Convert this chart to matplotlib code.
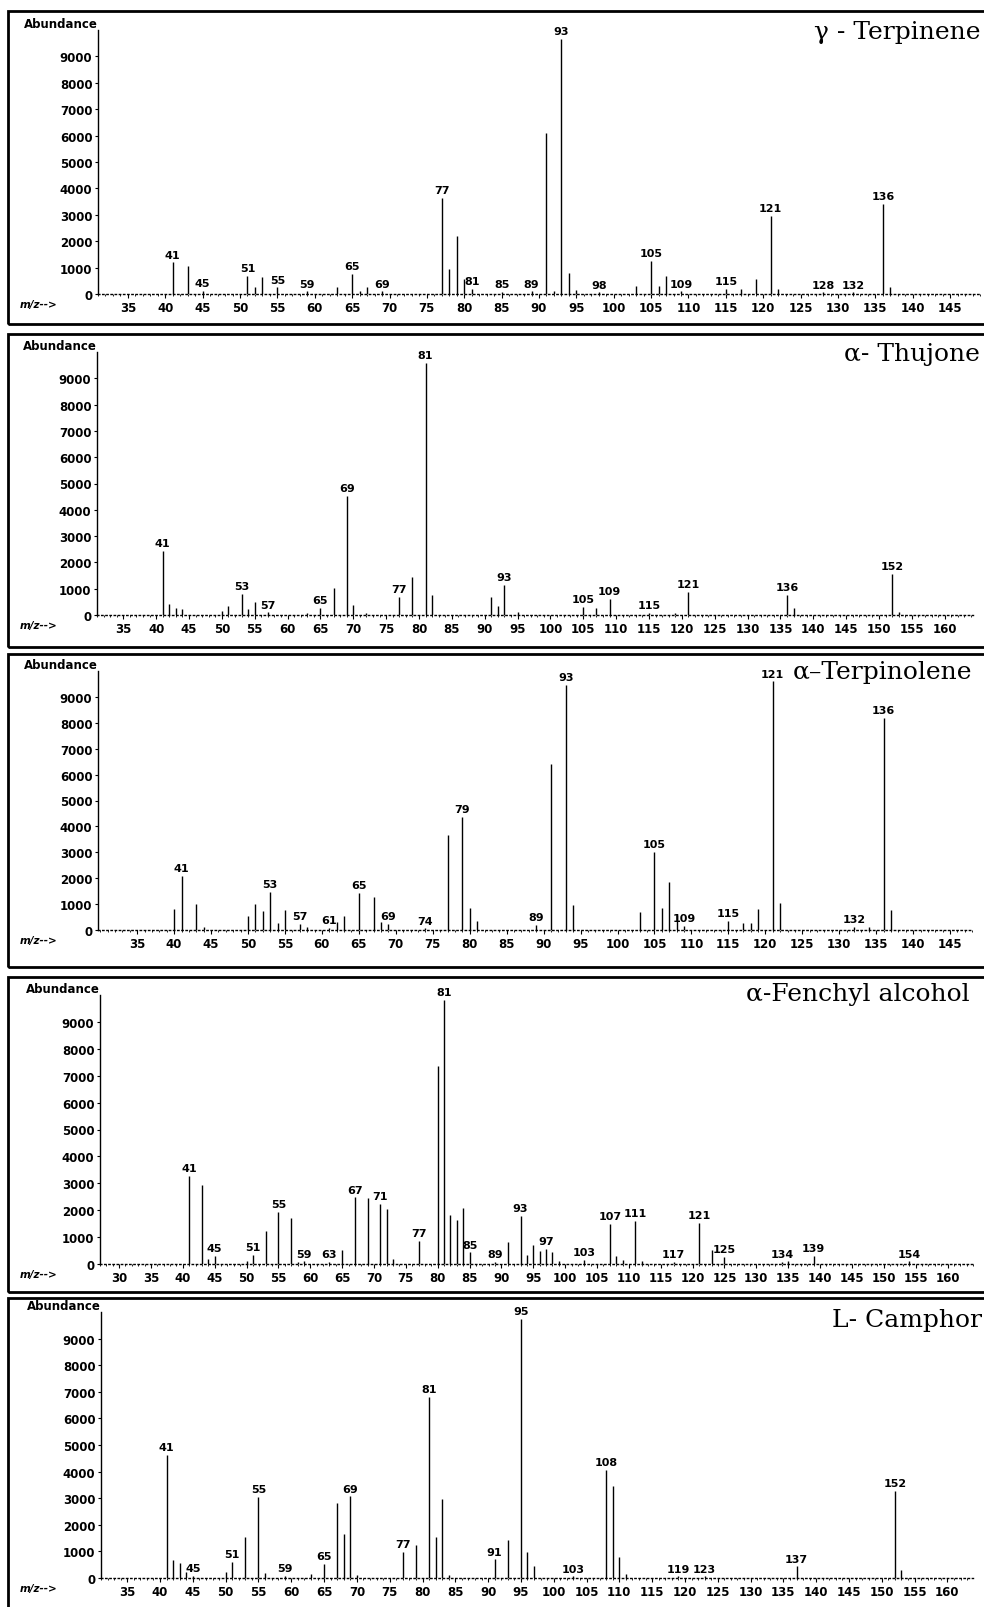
import matplotlib
matplotlib.use("Agg")
import matplotlib.pyplot as plt
from matplotlib.patches import Rectangle
from matplotlib.ticker import MultipleLocator

W, H = 984, 1608

plt.rcParams['font.family'] = ['DejaVu Sans']
plt.rcParams['font.weight'] = 'bold'

# gamma-Terpinene
terp_g_mz = [41, 43, 45, 51, 52, 53, 55, 59, 63, 65, 66, 67, 69, 77, 78, 79, 80, 81, 85, 89,
             91, 92, 93, 94, 95, 98, 103, 105, 106, 107, 109, 115, 117, 119, 121, 122, 128, 132, 136, 137]
terp_g_ab = [1200, 1075, 120, 700, 250, 630, 250, 100, 250, 760, 100, 250, 100, 3630, 950, 2190, 570, 190, 80, 100,
             6080, 100, 9650, 800, 150, 60, 320, 1250, 320, 700, 100, 200, 200, 570, 2970, 200, 60, 60, 3420, 280]
terp_g_lab = [41, 45, 51, 55, 59, 65, 69, 77, 81, 85, 89, 93, 98, 105, 109, 115, 121, 128, 132, 136]

# alpha-Thujone
thuj_mz = [41, 42, 43, 44, 50, 51, 53, 54, 55, 57, 63, 65, 67, 69, 70, 72, 77, 79, 81, 82,
           91, 92, 93, 95, 105, 107, 109, 115, 119, 121, 136, 137, 152, 153]
thuj_ab = [2440, 400, 280, 220, 150, 340, 790, 220, 500, 100, 80, 280, 1040, 4530, 370, 90, 690, 1460, 9600, 760,
           700, 340, 1150, 100, 320, 250, 600, 80, 60, 890, 760, 250, 1560, 130]
thuj_lab = [41, 53, 57, 65, 69, 77, 81, 93, 105, 109, 115, 121, 136, 152]

# alpha-Terpinolene
terp_a_mz = [40, 41, 43, 44, 50, 51, 52, 53, 54, 55, 57, 58, 61, 62, 63, 65, 67, 68, 69, 74,
             77, 79, 80, 81, 89, 91, 93, 94, 103, 105, 106, 107, 108, 109, 115, 117, 118, 119, 121, 122,
             132, 134, 136, 137]
terp_a_ab = [810, 2100, 1000, 100, 530, 1000, 750, 1460, 270, 770, 230, 100, 80, 300, 550, 1420, 1260, 300, 230, 60,
             3650, 4360, 840, 360, 190, 6400, 9470, 970, 700, 3030, 840, 1870, 580, 150, 350, 260, 260, 810, 9600, 1030,
             130, 130, 8180, 770]
terp_a_lab = [41, 53, 57, 61, 65, 69, 74, 79, 89, 93, 105, 109, 115, 121, 132, 136]

# alpha-Fenchyl alcohol
fench_mz = [41, 43, 44, 45, 50, 51, 53, 55, 57, 58, 59, 63, 65, 67, 69, 71, 72, 73, 77, 80,
            81, 82, 83, 84, 85, 89, 91, 93, 94, 95, 96, 97, 98, 99, 103, 107, 108, 109, 111, 112,
            117, 121, 123, 125, 134, 135, 139, 154]
fench_ab = [3270, 2920, 190, 290, 120, 340, 1240, 1930, 1700, 80, 100, 80, 520, 2480, 2450, 2240, 2050, 190, 870, 7350,
            9810, 1840, 1650, 2070, 430, 80, 810, 1800, 340, 700, 500, 560, 430, 120, 150, 1490, 310, 160, 1600, 120,
            80, 1530, 530, 250, 80, 100, 310, 100]
fench_lab = [41, 45, 51, 55, 59, 63, 67, 71, 77, 81, 85, 89, 93, 97, 103, 107, 111, 117, 121, 125, 134, 139, 154]

# L-Camphor
camph_mz = [41, 42, 43, 44, 45, 50, 51, 53, 55, 56, 59, 63, 65, 67, 68, 69, 70, 77, 79, 81,
            82, 83, 84, 91, 93, 95, 96, 97, 103, 108, 109, 110, 111, 119, 123, 137, 152, 153]
camph_ab = [4640, 660, 580, 230, 80, 230, 600, 1540, 3050, 200, 80, 160, 540, 2820, 1640, 3070, 100, 980, 1230, 6800,
            1540, 2980, 130, 700, 1420, 9750, 980, 440, 60, 4070, 3450, 790, 150, 60, 60, 440, 3270, 310]
camph_lab = [41, 45, 51, 55, 59, 65, 69, 77, 81, 91, 95, 103, 108, 119, 123, 137, 152]

names = ["\u03b3 - Terpinene", "\u03b1- Thujone", "\u03b1\u2013Terpinolene",
         "\u03b1-Fenchyl alcohol", "L- Camphor"]
spectra = [(terp_g_mz, terp_g_ab, terp_g_lab), (thuj_mz, thuj_ab, thuj_lab),
           (terp_a_mz, terp_a_ab, terp_a_lab), (fench_mz, fench_ab, fench_lab),
           (camph_mz, camph_ab, camph_lab)]

# layout in pixels: frame top/bottom, axis left/right x, baseline y, axis top y
frames = [(12, 325), (335, 648), (655, 968), (978, 1293), (1299, 1615)]
axes_px = [(98, 980, 295, 31), (97, 973, 616, 353), (98, 973, 931, 672),
           (100, 973, 1265, 996), (101, 973, 1579, 1313)]
xlims = [(31, 149), (31, 164.3), (29.7, 148.1), (27, 164), (31, 163.9)]
xmin_tick = [35, 35, 35, 30, 35]
titles_px = [(980, 33), (980, 355), (972, 673), (970, 995), (982, 1320)]

fig = plt.figure(figsize=(W / 100, H / 100), dpi=100)

for i in range(5):
    mz, ab, lab = spectra[i]
    ftop, fbot = frames[i]
    fig.patches.append(Rectangle((8 / W, 1 - fbot / H), 1.2, (fbot - ftop) / H,
                                 transform=fig.transFigure, fill=False,
                                 edgecolor='black', linewidth=2))

    x0, x1, yb, yt = axes_px[i]
    ax = fig.add_axes([x0 / W, 1 - yb / H, (x1 - x0) / W, (yb - yt) / H])
    ax.vlines(mz, 0, ab, color='black', linewidth=1.0)
    heights = dict(zip(mz, ab))
    for m in lab:
        ax.annotate(str(m), (m, heights.get(m, 0)), xytext=(0, 2), textcoords='offset points',
                    ha='center', va='bottom', fontsize=8, fontweight='bold', annotation_clip=False)

    ax.set_xlim(*xlims[i])
    ax.set_ylim(0, 10000)
    ax.set_yticks(range(0, 10000, 1000))
    ax.xaxis.set_minor_locator(MultipleLocator(1))
    ax.set_xticks(list(range(xmin_tick[i], int(xlims[i][1]) - 2, 5)))
    ax.tick_params(axis='y', length=2, width=0.8, pad=2, labelsize=8.5)
    ax.tick_params(axis='x', which='major', length=3, width=0.8, pad=2, labelsize=8.5)
    ax.tick_params(axis='x', which='minor', length=1.5, width=0.6)
    for s in ['top', 'right']:
        ax.spines[s].set_visible(False)
    ax.spines['left'].set_linewidth(1.0)
    ax.spines['bottom'].set_linewidth(1.0)
    ax.spines['bottom'].set_linestyle((0, (1, 2)))
    ax.patch.set_alpha(0)

    ax.text(0, 1.0, "Abundance", transform=ax.transAxes, ha='right', va='bottom',
            fontsize=8.5, fontweight='bold')
    fig.text(20 / W, 1 - (yb + 10) / H, "m/z-->", ha='left', va='center',
             fontsize=7.5, fontweight='bold', style='italic')

    tx, ty = titles_px[i]
    fig.text(tx / W, 1 - ty / H, names[i], ha='right', va='center',
             family=['DejaVu Serif'], fontsize=18, fontweight='normal')

fig.savefig("out.png", dpi=100)
